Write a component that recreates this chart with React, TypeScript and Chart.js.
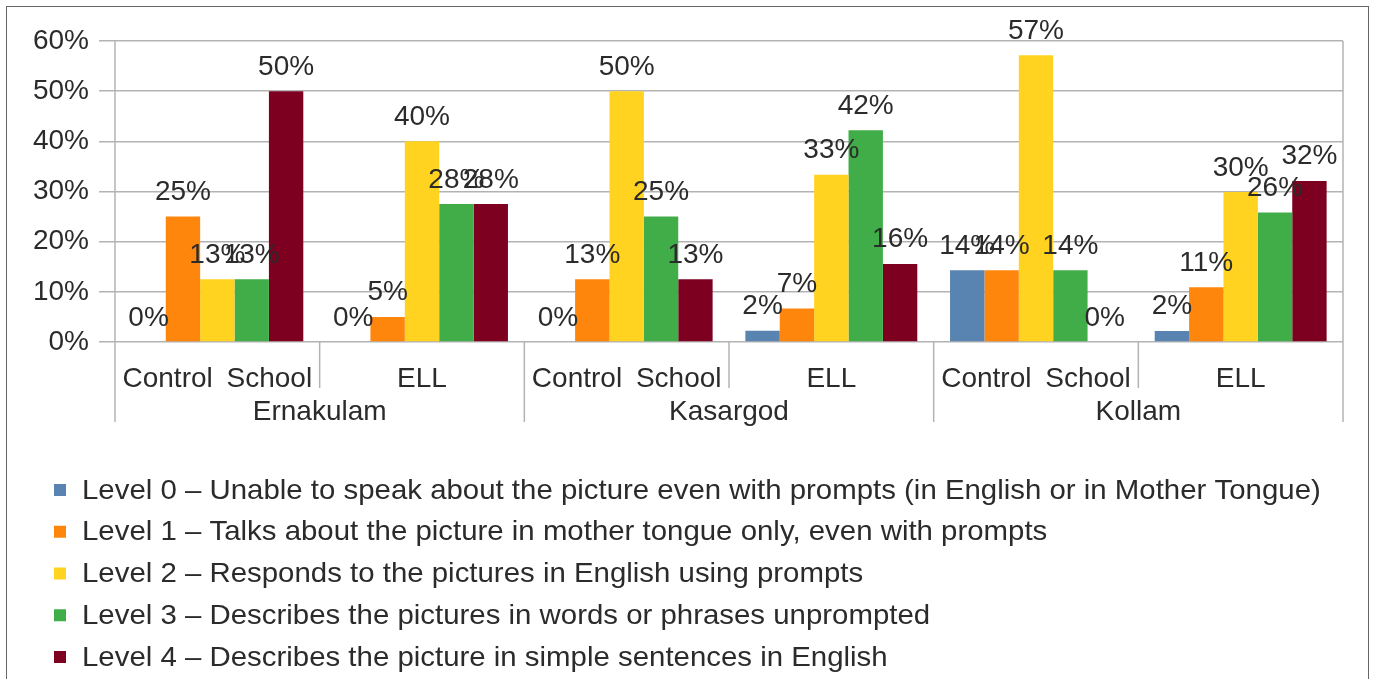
import React, { useEffect, useRef } from 'react';
import { Chart, registerables } from 'chart.js';

Chart.register(...registerables);

const categories = ['Control School', 'ELL', 'Control School', 'ELL', 'Control School', 'ELL'];
const regions = ['Ernakulam', 'Kasargod', 'Kollam'];
const seriesNames = [
  'Level 0 – Unable to speak about the picture even with prompts (in English or in Mother Tongue)',
  'Level 1 – Talks about the picture in mother tongue only, even with prompts',
  'Level 2 – Responds to the pictures in English using prompts',
  'Level 3 – Describes the pictures in words or phrases unprompted',
  'Level 4 – Describes the picture in simple sentences in English',
];
const level0 = [0, 0, 0, 2.22, 14.29, 2.2];
const level1 = [25, 5, 12.5, 6.67, 14.29, 10.9];
const level2 = [12.5, 40, 50, 33.33, 57.14, 29.9];
const level3 = [12.5, 27.5, 25, 42.22, 14.29, 25.8];
const level4 = [50, 27.5, 12.5, 15.56, 0, 32.1];
const seriesValues = [level0, level1, level2, level3, level4];
const seriesColors = ['#5983b0', '#ff860d', '#ffd320', '#41ad49', '#7e0021'];
const yTickValues = [0, 10, 20, 30, 40, 50, 60];

const FONT = "'Liberation Sans', Arial, sans-serif";
const FONT_SIZE = 28;
const TEXT_COLOR = '#2b2b2b';
const GRID_COLOR = '#b3b3b3';

const overlayPlugin = {
  id: 'overlay',
  afterDatasetsDraw(chart: any) {
    const ctx = chart.ctx;
    const area = chart.chartArea;
    const xs = chart.scales.x;
    ctx.save();
    // data labels
    ctx.font = `${FONT_SIZE}px ${FONT}`;
    ctx.fillStyle = TEXT_COLOR;
    ctx.textAlign = 'center';
    ctx.textBaseline = 'alphabetic';
    chart.data.datasets.forEach((ds: any, di: number) => {
      const meta = chart.getDatasetMeta(di);
      meta.data.forEach((el: any, i: number) => {
        const v = ds.data[i];
        ctx.fillText(`${Math.round(v)}%`, el.x, el.y - 16.5);
      });
    });

    // separators
    const n = categories.length;
    const step = xs.getPixelForValue(1) - xs.getPixelForValue(0);
    const x0 = xs.getPixelForValue(0) - step / 2;
    ctx.strokeStyle = GRID_COLOR;
    ctx.lineWidth = 1.5;
    for (let i = 0; i <= n; i++) {
      const x = x0 + i * step;
      let yTop = area.bottom;
      let yBot = area.bottom + 46;
      if (i === 0 || i === n) {
        yTop = area.top;
        yBot = area.bottom + 80;
      } else if (i % 2 === 0) {
        yBot = area.bottom + 80;
      }
      ctx.beginPath();
      ctx.moveTo(x, yTop);
      ctx.lineTo(x, yBot);
      ctx.stroke();
    }

    // category labels
    ctx.fillStyle = TEXT_COLOR;
    ctx.textBaseline = 'middle';
    ctx.textAlign = 'center';
    (ctx as any).wordSpacing = '6px';
    categories.forEach((c, i) => {
      ctx.fillText(c, xs.getPixelForValue(i), area.bottom + 37);
    });
    (ctx as any).wordSpacing = '0px';
    regions.forEach((r, i) => {
      const cx = (xs.getPixelForValue(i * 2) + xs.getPixelForValue(i * 2 + 1)) / 2;
      ctx.fillText(r, cx, area.bottom + 70);
    });

    // legend
    ctx.textAlign = 'left';
    ctx.textBaseline = 'middle';
    seriesNames.forEach((name, i) => {
      const y = 490 + i * 41.75;
      ctx.fillStyle = seriesColors[i];
      ctx.fillRect(54, y - 6, 12, 12);
      ctx.fillStyle = TEXT_COLOR;
      ctx.save();
      ctx.translate(82, y + 1);
      ctx.scale(1.05, 1);
      ctx.fillText(name, 0, 0);
      ctx.restore();
    });
    ctx.restore();
  },
};

export default function App() {
  const canvasRef = useRef<HTMLCanvasElement | null>(null);

  useEffect(() => {
    if (!canvasRef.current) return;
    const chart = new Chart(canvasRef.current, {
      type: 'bar',
      data: {
        labels: categories,
        datasets: seriesValues.map((vals, i) => ({
          label: seriesNames[i],
          data: vals,
          backgroundColor: seriesColors[i],
          borderWidth: 0,
          categoryPercentage: 0.84,
          barPercentage: 1.0,
        })),
      },
      options: {
        animation: false,
        responsive: false,
        devicePixelRatio: 1,
        layout: { padding: { left: 0, right: 32, top: 41, bottom: 0 } },
        plugins: {
          legend: { display: false },
          tooltip: { enabled: false },
          title: { display: false },
        },
        scales: {
          x: {
            ticks: { display: false },
            grid: { display: false },
            border: { display: false },
            afterFit: (scale: any) => {
              scale.height = 679 - 342;
            },
          },
          y: {
            min: 0,
            max: 60,
            afterBuildTicks: (scale: any) => {
              scale.ticks = yTickValues.map((v) => ({ value: v }));
            },
            ticks: {
              callback: (v: any) => `${v}%`,
              font: { family: FONT, size: FONT_SIZE },
              color: TEXT_COLOR,
              padding: 10,
            },
            grid: {
              color: GRID_COLOR,
              lineWidth: 1.5,
              tickLength: 16,
              drawTicks: true,
            },
            border: { display: false },
            afterFit: (scale: any) => {
              scale.width = 115;
            },
          },
        },
      },
      plugins: [overlayPlugin],
    });
    return () => chart.destroy();
  }, []);

  return (
    <div
      style={{
        position: 'fixed',
        left: 0,
        top: 0,
        width: 1375,
        height: 679,
        overflow: 'hidden',
        background: '#ffffff',
      }}
    >
      <canvas
        ref={canvasRef}
        width={1375}
        height={679}
        style={{ position: 'absolute', left: 0, top: 0, display: 'block' }}
      />
      <div
        style={{
          position: 'absolute',
          left: 6,
          top: 6,
          width: 1363,
          height: 720,
          boxSizing: 'border-box',
          border: '1.5px solid #666666',
          pointerEvents: 'none',
        }}
      />
    </div>
  );
}
